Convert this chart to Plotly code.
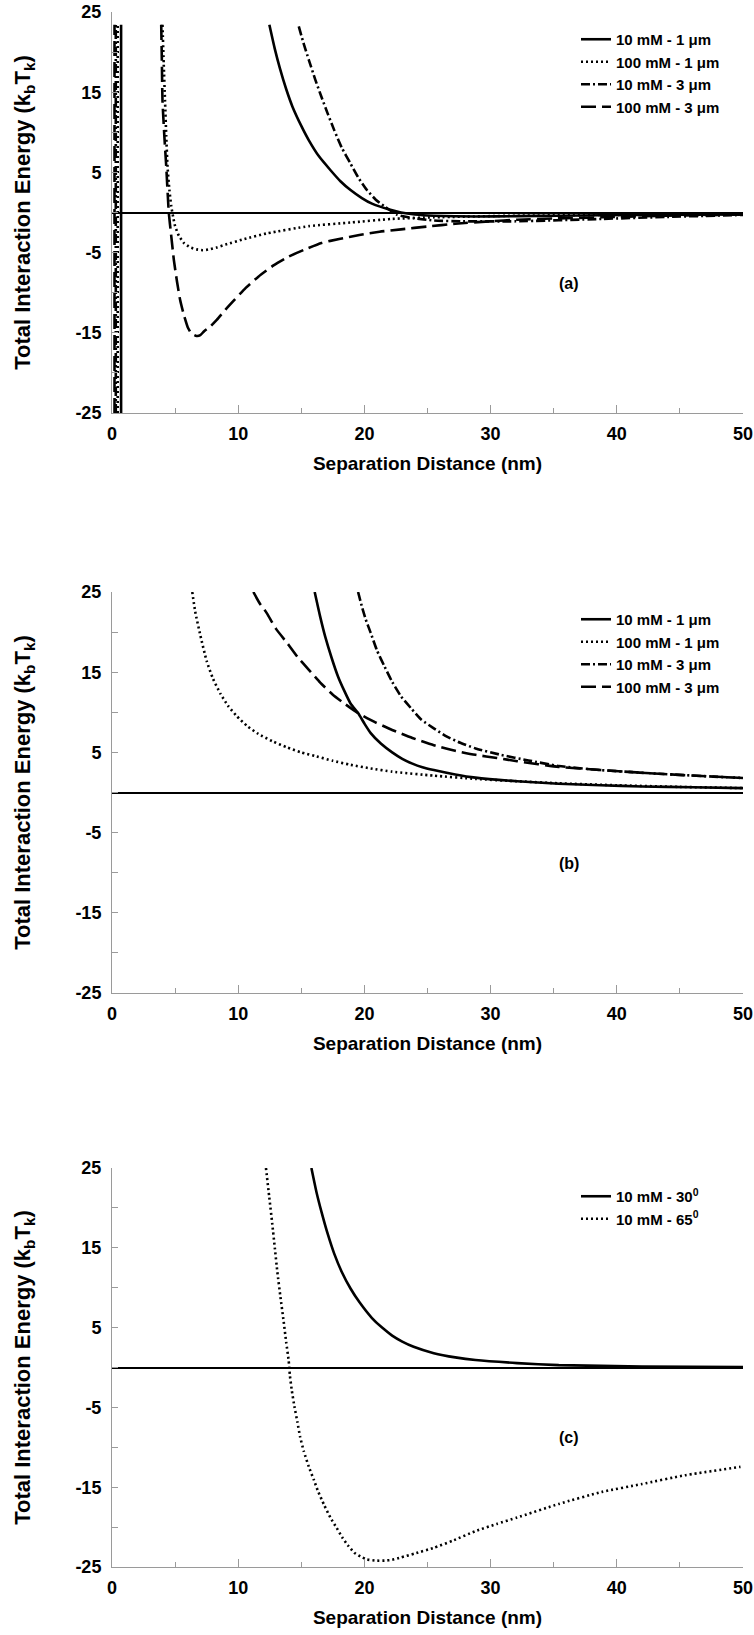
import plotly.graph_objects as go

# ---------------- DATA ----------------
series_names = ["10 mM - 1 μm", "100 mM - 1 μm", "10 mM - 3 μm", "100 mM - 3 μm"]
series_names_c = ["10 mM - 30<sup>0</sup>", "10 mM - 65<sup>0</sup>"]
x_tick_vals = [0, 10, 20, 30, 40, 50]
x_tick_text = ["0", "10", "20", "30", "40", "50"]
y_tick_vals = [25, 15, 5, -5, -15, -25]
y_tick_text = ["25", "15", "5", "-5", "-15", "-25"]
y_minor_vals = [20, 10, 0, -10, -20]
x_minor_vals = [5, 15, 25, 35, 45]
panel_labels = ["(a)", "(b)", "(c)"]

# Panel (a)
a_solid_x = [0.72, 0.72, None, 12.47, 12.9, 13.3, 13.8, 14.3, 15.0, 15.6, 16.4, 17.3, 18.1, 18.9, 19.8,
             20.6, 21.9, 22.9, 24.0, 25.5, 28.8, 32.0, 35.4, 42.0, 50.0]
a_solid_y = [-25, 23.4, None, 23.4, 20.4, 18.0, 15.4, 13.2, 10.8, 9.0, 7.0, 5.3, 3.9, 2.8, 1.8,
             1.1, 0.4, 0.0, -0.25, -0.4, -0.5, -0.45, -0.4, -0.3, -0.25]
a_dot_x = [0.45, 0.45, None, 4.0, 4.1, 4.2, 4.3, 4.4, 4.55, 4.7, 4.85, 5.0, 5.3, 5.7, 6.2, 6.7, 7.2,
           7.7, 8.3, 9.0, 10.5, 12.3, 15.6, 18.9, 22.2, 25.5, 32.0, 40.0, 50.0]
a_dot_y = [-25, 23.4, None, 23.4, 18.5, 14.0, 9.5, 5.7, 2.8, 0.75, -0.6, -1.7, -2.9, -3.8, -4.35, -4.6,
           -4.7, -4.6, -4.35, -4.0, -3.3, -2.6, -1.7, -1.25, -0.8, -0.6, -0.4, -0.3, -0.25]
a_dashdot_x = [0.3, 0.3, None, 14.8, 15.2, 15.6, 16.1, 16.6, 17.1, 17.6, 18.2, 18.9, 19.5, 20.2, 20.9,
               21.6, 22.6, 23.9, 25.5, 27.8, 32.0, 38.8, 44.0, 50.0]
a_dashdot_y = [-25, 23.4, None, 23.2, 21.0, 19.0, 16.6, 14.4, 12.3, 10.3, 8.1, 6.1, 4.4, 2.8, 1.6,
               0.75, -0.3, -0.7, -1.0, -1.1, -1.1, -0.8, -0.55, -0.3]
a_dash_x = [0.2, 0.2, None, 3.9, 3.95, 4.0, 4.15, 4.3, 4.5, 4.7, 4.9, 5.15, 5.4, 5.7, 6.0, 6.3, 6.7,
            7.0, 7.3, 7.8, 8.3, 9.0, 9.7, 10.6, 11.6, 12.8, 14.0, 15.3, 16.6, 18.0, 19.6, 21.2, 22.9,
            25.0, 27.2, 30.0, 32.1, 35.0, 38.8, 44.0, 50.0]
a_dash_y = [-25, 23.4, None, 23.4, 19.0, 14.0, 9.5, 5.7, 0.0, -3.0, -5.9, -8.6, -10.9, -12.8, -14.3,
            -15.1, -15.4, -15.3, -14.8, -14.2, -13.4, -12.1, -10.9, -9.4, -8.0, -6.6, -5.5, -4.6,
            -3.8, -3.3, -2.8, -2.4, -2.1, -1.75, -1.4, -1.1, -0.9, -0.75, -0.6, -0.4, -0.25]

# Panel (b)
b_solid_x = [16.06, 16.5, 16.9, 17.4, 17.9, 18.4, 18.9, 19.5, 20.0, 20.5, 21.3, 22.2, 23.0, 23.8,
             24.6, 25.5, 27.2, 28.8, 32.1, 35.4, 38.7, 42.0, 46.0, 50.0]
b_solid_y = [25, 21.9, 19.4, 16.8, 14.5, 12.7, 11.1, 9.9, 8.6, 7.4, 6.1, 5.0, 4.2, 3.6,
             3.15, 2.8, 2.25, 1.85, 1.4, 1.1, 0.9, 0.75, 0.65, 0.55]
b_dot_x = [6.36, 6.6, 7.0, 7.5, 8.0, 8.6, 9.2, 9.9, 10.7, 11.6, 12.7, 13.9, 15.0, 16.2, 17.5,
           18.9, 20.5, 22.2, 25.5, 28.8, 32.1, 35.4, 40.0, 45.0, 50.0]
b_dot_y = [25, 22.5, 19.6, 16.4, 14.2, 12.3, 10.8, 9.5, 8.3, 7.3, 6.4, 5.6, 5.0, 4.5, 3.95,
           3.45, 3.0, 2.6, 2.1, 1.7, 1.4, 1.15, 0.9, 0.7, 0.55]
b_dashdot_x = [19.5, 19.8, 20.1, 20.5, 21.0, 21.6, 22.2, 22.9, 23.7, 24.5, 25.5, 26.5, 27.6, 28.8,
               30.8, 33.0, 35.4, 38.7, 43.7, 50.0]
b_dashdot_y = [25, 23.2, 21.6, 19.9, 17.7, 15.7, 13.8, 12.0, 10.5, 9.1, 8.0, 7.0, 6.2, 5.5,
               4.7, 4.0, 3.3, 2.8, 2.3, 1.8]
b_dash_x = [11.2, 11.7, 12.25, 13.0, 13.9, 14.7, 15.6, 16.5, 17.5, 18.5, 19.5, 20.8, 22.2, 23.8,
            25.5, 27.2, 28.8, 30.5, 32.1, 35.4, 38.7, 43.7, 50.0]
b_dash_y = [25, 23.6, 22.4, 20.4, 18.6, 16.9, 15.3, 13.7, 12.2, 11.0, 9.9, 8.8, 7.8, 6.8,
            5.9, 5.2, 4.7, 4.3, 3.9, 3.2, 2.8, 2.3, 1.8]

# Panel (c)
c_solid_x = [15.8, 16.2, 16.6, 17.1, 17.6, 18.2, 18.9, 19.6, 20.6, 21.4, 22.2, 23.0, 23.9, 25.5,
             27.2, 28.8, 32.1, 35.4, 42.0, 50.0]
c_solid_y = [25, 22.0, 19.5, 16.7, 14.3, 12.0, 9.9, 8.2, 6.2, 5.0, 4.0, 3.25, 2.6, 1.8,
             1.27, 0.93, 0.55, 0.3, 0.13, 0.05]
c_dot_x = [12.2, 12.45, 12.7, 12.9, 13.1, 13.35, 13.6, 13.8, 14.0, 14.1, 14.25, 14.45, 14.7, 14.9,
           15.2, 15.6, 16.0, 16.3, 16.8, 17.3, 17.8, 18.25, 18.7, 19.2, 19.7, 20.2, 20.9, 21.6,
           22.2, 22.9, 24.0, 25.5, 27.0, 28.8, 30.5, 32.1, 35.4, 38.8, 42.0, 45.4, 49.8]
c_dot_y = [25, 21.5, 18.0, 15.0, 12.0, 8.8, 5.8, 3.2, 0.85, -1.05, -2.9, -4.85, -6.9, -8.65,
           -10.5, -12.45, -14.1, -15.4, -17.2, -18.8, -20.1, -21.3, -22.3, -23.2, -23.7, -24.05,
           -24.2, -24.2, -24.1, -23.8, -23.3, -22.6, -21.7, -20.5, -19.6, -18.8, -17.1, -15.6,
           -14.6, -13.5, -12.45]

# ---------------- STYLE ----------------
FONT = "Liberation Sans, Arial, sans-serif"
W, H = 754, 1635
AX_GRAY = "#9a9a9a"
LW = 2.6
DASH_SOLID = "solid"
DASH_DOT = "2px,3px"
DASH_DASHDOT = "9px,3px,2px,3px"
DASH_DASH = "15px,6px"

# pixel layout (from top-left)
x_left, x_right = 112, 743
panel_px = [(12, 413), (592, 993), (1168, 1567)]
legend_top_px = [23, 603, 1180]


def ydom(top, bot):
    return [1 - bot / H, 1 - top / H]


fig = go.Figure()

panels = [
    [(a_solid_x, a_solid_y, DASH_SOLID), (a_dot_x, a_dot_y, DASH_DOT),
     (a_dashdot_x, a_dashdot_y, DASH_DASHDOT), (a_dash_x, a_dash_y, DASH_DASH)],
    [(b_solid_x, b_solid_y, DASH_SOLID), (b_dot_x, b_dot_y, DASH_DOT),
     (b_dashdot_x, b_dashdot_y, DASH_DASHDOT), (b_dash_x, b_dash_y, DASH_DASH)],
    [(c_solid_x, c_solid_y, DASH_SOLID), (c_dot_x, c_dot_y, DASH_DOT)],
]
names = [series_names, series_names, series_names_c]

for p, traces in enumerate(panels):
    suffix = "" if p == 0 else str(p + 1)
    for (xs, ys, dash), nm in zip(traces, names[p]):
        fig.add_trace(go.Scatter(
            x=xs, y=ys, mode="lines", name=nm,
            line=dict(color="black", width=LW, dash=dash, shape="spline", smoothing=0.5),
            xaxis="x" + suffix, yaxis="y" + suffix,
            legend="legend" + suffix, connectgaps=False, showlegend=True,
        ))

tickfont = dict(family=FONT, size=18, color="black", weight="bold")
layout = dict(
    width=W, height=H, margin=dict(l=0, r=0, t=0, b=0),
    paper_bgcolor="white", plot_bgcolor="white", showlegend=True,
)
for p in range(3):
    suffix = "" if p == 0 else str(p + 1)
    top, bot = panel_px[p]
    layout["xaxis" + suffix] = dict(
        domain=[x_left / W, x_right / W], anchor="y" + suffix, range=[0, 50],
        tickmode="array", tickvals=x_tick_vals, ticktext=x_tick_text,
        ticks="inside", ticklen=8, tickwidth=1, tickcolor=AX_GRAY,
        minor=dict(tickvals=x_minor_vals, ticks="inside", ticklen=5, tickcolor=AX_GRAY, tickwidth=1),
        showline=True, linecolor=AX_GRAY, linewidth=1, showgrid=False, zeroline=False,
        tickfont=tickfont, ticklabelstandoff=4, ticklabeloverflow="allow", automargin=False,
        title=dict(text="Separation Distance (nm)", standoff=14,
                   font=dict(family=FONT, size=19, color="black", weight="bold")),
    )
    layout["yaxis" + suffix] = dict(
        domain=ydom(top, bot), anchor="x" + suffix, range=[-25, 25],
        tickmode="array", tickvals=y_tick_vals, ticktext=y_tick_text,
        ticks="inside", ticklen=6, tickwidth=1, tickcolor=AX_GRAY,
        minor=dict(tickvals=y_minor_vals, ticks="inside", ticklen=6, tickcolor=AX_GRAY, tickwidth=1),
        showline=True, linecolor=AX_GRAY, linewidth=1, showgrid=False,
        zeroline=True, zerolinecolor="black", zerolinewidth=2,
        tickfont=tickfont, ticklabelstandoff=6, ticklabeloverflow="allow", automargin=False,
        title=dict(text="Total Interaction Energy (k<sub>b</sub>T<sub>k</sub>)", standoff=38,
                   font=dict(family=FONT, size=22, color="black", weight="bold")),
    )
    layout["legend" + suffix] = dict(
        x=576 / W, y=1 - legend_top_px[p] / H, xanchor="left", yanchor="top",
        bgcolor="rgba(0,0,0,0)", borderwidth=0, tracegroupgap=0,
        font=dict(family=FONT, size=15, color="black", weight="bold"),
    )

fig.update_layout(**layout)

for p, lab in enumerate(panel_labels):
    suffix = "" if p == 0 else str(p + 1)
    fig.add_annotation(x=36.2, y=-8.8, xref="x" + suffix, yref="y" + suffix, text=lab,
                       showarrow=False, font=dict(family=FONT, size=16, color="black", weight="bold"))

# remove the default 8px page margin so the figure fills the window exactly
fig.write_html(
    "out.html",
    config={"displayModeBar": False},
    post_script="document.body.style.margin='0';document.body.style.padding='0';"
                "document.documentElement.style.overflow='hidden';",
)
